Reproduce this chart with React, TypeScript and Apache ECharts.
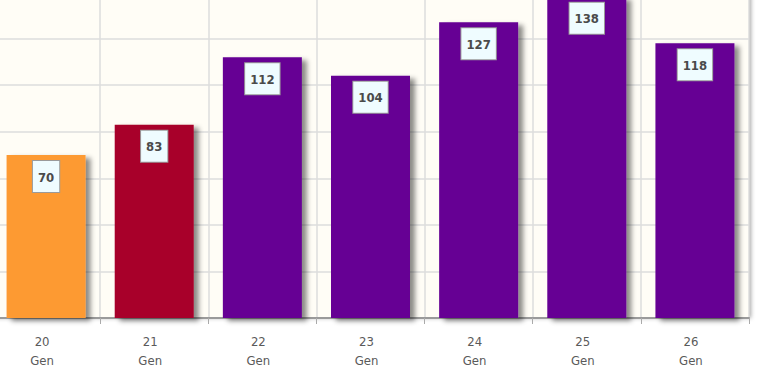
import React, { useEffect, useRef } from "react";
import * as echarts from "echarts";

const generations = ["20", "21", "22", "23", "24", "25", "26"];
const suffix = "Gen";
const values = [70, 83, 112, 104, 127, 138, 118];
const barColors = ["#fd9a33", "#a8002a", "#660094", "#660094", "#660094", "#660094", "#660094"];
const yTicks = { min: 0, max: 140, interval: 20 };

export default function App() {
  const ref = useRef<HTMLDivElement>(null);
  useEffect(() => {
    if (!ref.current) return;
    const chart = echarts.init(ref.current, null, { renderer: "svg" });
    const labelFont = "'Liberation Sans Narrow', 'DejaVu Sans Condensed', sans-serif";
    chart.setOption({
      animation: false,
      backgroundColor: "#ffffff",
      grid: {
        left: 0,
        right: 21,
        top: 0,
        bottom: 52,
        show: true,
        backgroundColor: "#fffdf6",
        borderWidth: 0,
        shadowColor: "rgba(0,0,0,0.35)",
        shadowBlur: 4,
        shadowOffsetX: 2,
        shadowOffsetY: 0,
      },
      xAxis: {
        type: "category",
        data: generations.map((g) => `${g}\n${suffix}`),
        axisLine: { lineStyle: { color: "#9a9a9a", width: 2 } },
        axisTick: { show: true, length: 6, lineStyle: { color: "#aaaaaa", width: 1 } },
        splitLine: { show: true, lineStyle: { color: "#dcdcdc", width: 1.5 } },
        axisLabel: {
          color: "#5a5a5a",
          fontSize: 13,
          lineHeight: 19,
          margin: 14,
          padding: [0, 8, 0, 0],
          fontFamily: labelFont,
        },
      },
      yAxis: {
        type: "value",
        min: yTicks.min,
        max: yTicks.max,
        interval: yTicks.interval,
        axisLabel: { show: false },
        axisLine: { show: false },
        axisTick: { show: false },
        splitLine: { show: true, lineStyle: { color: "#dcdcdc", width: 1.5 } },
      },
      series: [
        {
          type: "bar",
          barWidth: 79,
          data: values.map((v, i) => ({
            value: v,
            itemStyle: { color: barColors[i] },
          })),
          itemStyle: {
            shadowColor: "rgba(0,0,0,0.45)",
            shadowBlur: 5,
            shadowOffsetX: 5,
            shadowOffsetY: 3,
          },
          label: {
            show: true,
            position: "insideTop",
            distance: 6,
            formatter: "{c}",
            backgroundColor: "#effcff",
            borderColor: "#9a9a9a",
            borderWidth: 1,
            padding: [9, 5, 8, 5],
            lineHeight: 14,
            color: "#4a4a4a",
            fontWeight: "bold",
            fontSize: 13,
            fontFamily: labelFont,
          },
        },
      ],
    });
    return () => chart.dispose();
  }, []);
  return (
    <div
      ref={ref}
      style={{ position: "fixed", left: -8, top: -8, width: 778, height: 378 }}
    />
  );
}
